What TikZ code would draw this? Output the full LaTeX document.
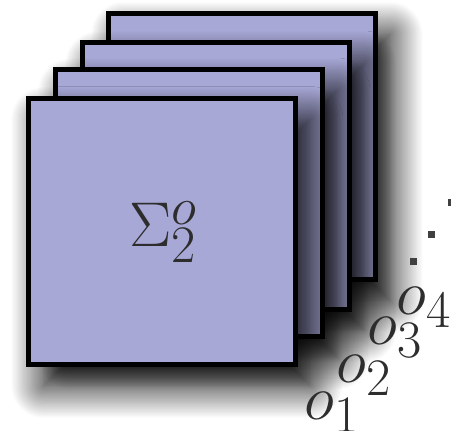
\documentclass[tikz,border=0pt]{standalone}
\usepackage{tikz}
\usetikzlibrary{shadows.blur}
\definecolor{layerblue}{RGB}{168,168,215}
\definecolor{labelgray}{RGB}{45,45,45}
\definecolor{dotgray}{RGB}{64,64,64}
\tikzset{
  layer/.style={draw=black,line width=0.1cm,fill=layerblue,
    minimum size=5.34cm,inner sep=0pt,
    blur shadow={shadow xshift=0.3cm,shadow yshift=-0.42cm,
      shadow blur radius=0.65cm,shadow blur steps=30,shadow opacity=100}},
  bigmath/.style={font=\Huge,scale=1.447,text=labelgray,
    inner sep=0pt,anchor=base west},
  dotmark/.style={fill=dotgray,minimum size=0.14cm,inner sep=0pt}
}

\begin{document}
\begin{tikzpicture}[x=0.02cm,y=0.02cm]
    \useasboundingbox (0,0) rectangle (451,431);
    % four stacked layers, drawn from the back to the front
    \foreach \k/\cx/\cy in {4/242/284.5,3/216/255,2/189/228,1/162/199.5}{
      \node[layer] (sq\k) at (\cx,\cy) {};}
    \node[bigmath] (sigma) at (129,184) {$\Sigma_2^o$};
    % labels running off along the diagonal
    \node[bigmath] (o1) at (304,11) {$o_1$};
    \node[bigmath] (o2) at (336,48) {$o_2$};
    \node[bigmath] (o3) at (367,86) {$o_3$};
    \node[bigmath] (o4) at (396,116) {$o_4$};
    \node[dotmark] (d1) at (413.5,169.5) {};
    \node[dotmark] (d2) at (431.5,196.5) {};
    \node[dotmark] (d3) at (452,228.5) {};
  \end{tikzpicture}
\end{document}
